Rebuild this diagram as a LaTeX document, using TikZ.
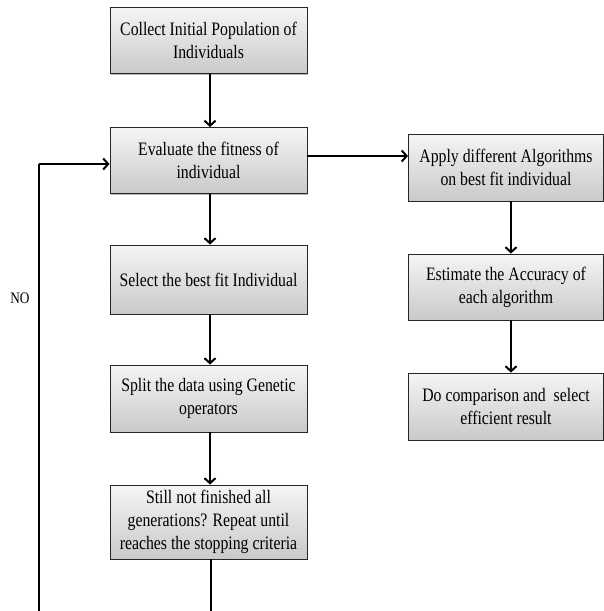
\documentclass[tikz,border=0pt]{standalone}
\usepackage{fontspec}
\setmainfont{Liberation Serif}[FakeStretch=0.83]
\usetikzlibrary{arrows.meta,shadows}
\begin{document}
\begin{tikzpicture}[x=1pt,y=-1pt,
  box/.style={draw=black!85,line width=0.9pt,top color=gray!8,bottom color=gray!42,
    drop shadow={shadow xshift=1.2pt,shadow yshift=-1.2pt,opacity=0.45,fill=black!60},
    align=center,inner sep=0pt,font=\fontsize{19}{23}\selectfont},
  conn/.style={line width=2pt,-{Straight Barb[length=5pt,width=11pt,line width=2pt]}},
  loopline/.style={line width=2pt}]
\useasboundingbox (0,0) rectangle (603,611);
\node[box,minimum width=197pt,minimum height=66pt] (b1) at (208.5,40.5) {Collect Initial Population of\\Individuals};
\node[box,minimum width=197pt,minimum height=66pt] (b2) at (208.5,160.5) {Evaluate the fitness of\\individual};
\node[box,minimum width=197pt,minimum height=69pt] (b3) at (208.5,279.5) {Select the best fit Individual};
\node[box,minimum width=197pt,minimum height=67pt] (b4) at (208.5,398.5) {Split the data using Genetic\\operators};
\node[box,minimum width=197pt,minimum height=74pt] (b5) at (208.5,522) {Still not finished all\\generations? Repeat until\\reaches the stopping criteria};
\node[box,minimum width=195pt,minimum height=67pt] (r1) at (506,167.5) {Apply different Algorithms\\on best fit individual};
\node[box,minimum width=195pt,minimum height=66pt] (r2) at (506,287) {Estimate the Accuracy of\\each algorithm};
\node[box,minimum width=195pt,minimum height=67pt] (r3) at (506,406.5) {Do comparison and\ \ select\\efficient result};
\node[font=\fontsize{16}{19}\selectfont] (no) at (20,298) {NO};
\coordinate (c1) at (211,612.3);
\coordinate (c2) at (38.5,612.3);
\coordinate (c3) at (38.5,164);
\draw[conn] (b1.south -| 210,0) -- (b2.north -| 210,0);
\draw[conn] (b2.south -| 210,0) -- (b3.north -| 210,0);
\draw[conn] (b3.south -| 210,0) -- (b4.north -| 210,0);
\draw[conn] (b4.south -| 210,0) -- (b5.north -| 210,0);
\draw[conn] (b2.east |- 0,156) -- (r1.west |- 0,156);
\draw[conn] (r1.south -| 511,0) -- (r2.north -| 511,0);
\draw[conn] (r2.south -| 511,0) -- (r3.north -| 511,0);
\draw[loopline,line join=miter] (b5.south -| c1) -- (c1) -- (c2) -- (c3);
\draw[conn] (c3) -- (b2.west |- c3);
\end{tikzpicture}
\end{document}
